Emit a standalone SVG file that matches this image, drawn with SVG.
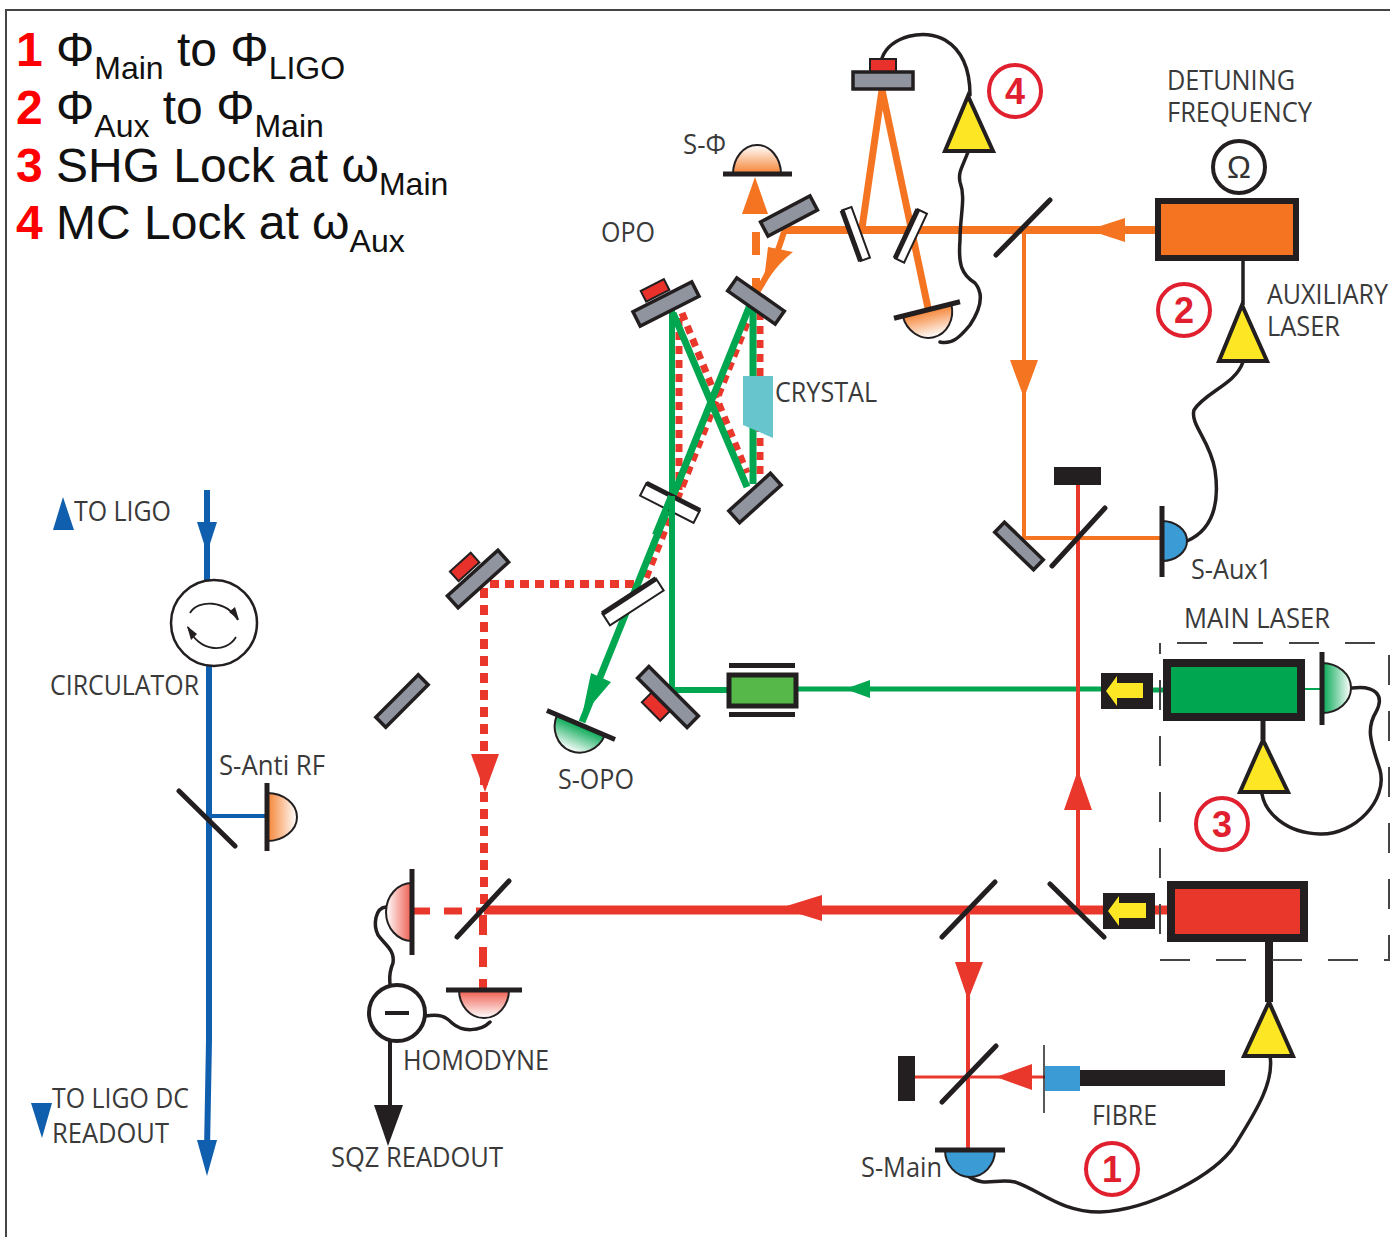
<svg xmlns="http://www.w3.org/2000/svg" width="1390" height="1237" viewBox="0 0 1390 1237">
<defs>
<linearGradient id="gO" x1="0" y1="1" x2="0" y2="0"><stop offset="0" stop-color="#f58232"/><stop offset="1" stop-color="#fff"/></linearGradient>
<linearGradient id="gR" x1="0" y1="1" x2="0" y2="0"><stop offset="0" stop-color="#ee5a4c"/><stop offset="1" stop-color="#fff"/></linearGradient>
<linearGradient id="gG" x1="0" y1="1" x2="0" y2="0"><stop offset="0" stop-color="#00a650"/><stop offset="1" stop-color="#fff"/></linearGradient>
</defs>
<style>
.lbl{font-family:"Open Sans","Noto Sans",sans-serif;font-size:27px;fill:#3a3a3a}
.leg{font-family:"Liberation Sans",Arial,sans-serif;font-size:48px;fill:#111}
.num{font-weight:bold;fill:#f00;font-family:"Liberation Sans",Arial,sans-serif;font-size:48px}
.sub{font-size:32px}
.cnum{font-family:"Liberation Sans",Arial,sans-serif;font-size:36px;font-weight:bold;fill:#e0202e;text-anchor:middle}
.ring{fill:#fff;stroke:#e0202e;stroke-width:4}
.mir{fill:#8f949e;stroke:#231f20;stroke-width:3.5}
.win{fill:#fff;stroke:#231f20;stroke-width:2}
.edge{stroke:#231f20;stroke-width:5;fill:none}
.pzt{fill:#e8312a;stroke:#231f20;stroke-width:2}
.bs{stroke:#231f20;stroke-width:5;fill:none;stroke-linecap:round}
.bar{stroke:#231f20;stroke-width:5;fill:none}
.cable{stroke:#231f20;stroke-width:3.5;fill:none;stroke-linecap:round}
.amp{fill:#fde725;stroke:#231f20;stroke-width:4;stroke-linejoin:miter}
.dome{stroke:#231f20;stroke-width:2}
.org{stroke:#f47421;fill:none}
.red{stroke:#e9382b;fill:none}
.grn{stroke:#00a650;fill:none}
.blu{stroke:#0f5fae;fill:none}
</style>
<rect x="6" y="10" width="1390" height="1240" fill="#fff" stroke="#444" stroke-width="2"/>

<g id="legend">
<text x="16" y="66" class="num">1</text><text x="56" y="66" class="leg">Φ<tspan class="sub" dy="13">Main</tspan><tspan dy="-13"> to Φ</tspan><tspan class="sub" dy="13">LIGO</tspan></text>
<text x="16" y="124" class="num">2</text><text x="56" y="124" class="leg">Φ<tspan class="sub" dy="13">Aux</tspan><tspan dy="-13"> to Φ</tspan><tspan class="sub" dy="13">Main</tspan></text>
<text x="16" y="182" class="num">3</text><text x="56" y="182" class="leg">SHG Lock at ω<tspan class="sub" dy="13">Main</tspan></text>
<text x="16" y="239" class="num">4</text><text x="56" y="239" class="leg">MC Lock at ω<tspan class="sub" dy="13">Aux</tspan></text>
</g>

<g id="connectors">
<!-- blue -->
<path class="blu" stroke-width="6" d="M207 490V580M209 665V1040L207 1150"/>
<path class="blu" stroke-width="4" d="M207 816H267"/>
<path fill="#0f5fae" d="M197 522H217L207 553ZM197 1140H217L207 1176Z"/>
<!-- orange -->
<path class="org" stroke-width="8" d="M782 230H1160"/>
<path class="org" stroke-width="7" d="M882 90L862 228M882 90L928 308"/>
<path class="org" stroke-width="4" d="M1024 232V538H1160"/>
<path class="org" stroke-width="6" d="M784 232C778 252 770 272 757 292"/>
<path fill="#f47421" d="M768 247L793 252C780 262 770 275 763 288Z"/>
<path class="org" stroke-width="8" d="M756 232V255M756 278V290"/>
<path fill="#f47421" d="M755 177L742 214H768ZM1088 230L1125 218V242ZM1010 360H1038L1024 398Z"/>
<!-- red dotted squeezed path -->
<path class="red" stroke-width="7" stroke-dasharray="8 6" d="M679 318V490M682 313L747 473M760 312V480"/>
<path class="red" stroke-width="7" stroke-dasharray="8 6" d="M747 323L646 578"/>
<path class="red" stroke-width="8" stroke-dasharray="9 6" d="M634 584H484"/>
<path class="red" stroke-width="8" stroke-dasharray="10 7" d="M484 588V906"/>
<path class="red" stroke-width="7" stroke-dasharray="18 14" d="M412 911H482"/>
<path class="red" stroke-width="8" stroke-dasharray="20 12" d="M483 915V988"/>
<path fill="#e9382b" d="M471 754H499L485 792Z"/>
<!-- green -->
<path class="grn" stroke-width="6" d="M672 310V690H730"/>
<path class="grn" stroke-width="7" d="M673 313L747 487M753 310V484"/>
<path class="grn" stroke-width="7" d="M750 305L582 722"/>
<path class="grn" stroke-width="5" d="M795 689H1101"/>
<path class="grn" stroke-width="5" d="M1150 690H1165"/>
<path class="grn" stroke-width="2" d="M1305 689H1322"/>
<path fill="#00a650" d="M845 689L870 680V698ZM591 673L611 682L582 716Z"/>
<!-- red main -->
<path class="red" stroke-width="9" d="M484 910H1170"/>
<path class="red" stroke-width="4" d="M968 910V1150M1078 910V485"/>
<path class="red" stroke-width="3" d="M915 1077H1045"/>
<path fill="#e9382b" d="M780 908L822 895V921ZM955 962H983L968 1000ZM1064 810H1092L1078 770ZM996 1077L1032 1064V1090Z"/>
<!-- black lines -->
<path class="bs" d="M457 937L509 881M942 937L995 882M1050 884L1104 937M942 1102L996 1046M1052 566L1105 508M996 255L1050 200M179 791L235 846"/>
<path d="M390 1041V1110" stroke="#231f20" stroke-width="4"/>
<path fill="#231f20" d="M374 1105H403L388 1146Z"/>
<path d="M1243 258V305" stroke="#231f20" stroke-width="3.5"/>
<path d="M1263 721V740" stroke="#231f20" stroke-width="5"/>
<path d="M1269 942V1002" stroke="#231f20" stroke-width="8"/>
<!-- cables -->
<path class="cable" d="M882 58C890 36 925 28 945 40C965 52 970 75 970 95"/>
<path class="cable" d="M968 152C962 168 958 172 960 182C966 198 960 215 960 240C958 265 962 275 975 283C985 295 980 310 970 325C960 337 952 345 940 342"/>
<path class="cable" d="M1243 362C1235 385 1205 392 1194 410C1190 425 1210 440 1215 470C1220 505 1212 530 1187 541"/>
<path class="cable" d="M1352 688C1375 685 1385 695 1376 712C1365 730 1372 745 1380 770C1388 800 1355 835 1320 834C1285 833 1265 812 1262 794"/>
<path class="cable" d="M1270 1056C1275 1085 1250 1120 1235 1145C1215 1175 1150 1210 1100 1212C1060 1212 1040 1190 1015 1182C995 1178 985 1188 968 1176"/>
<path class="cable" d="M386 907C375 908 373 925 378 935C385 945 395 950 393 963C388 975 390 980 390 985"/>
<path class="cable" d="M425 1016C440 1014 445 1016 452 1023C462 1032 480 1032 490 1022"/>
</g>

<g id="circulator">
<circle cx="214" cy="623" r="43" fill="#fff" stroke="#231f20" stroke-width="2.5"/>
<path d="M190 613C198 599 226 600 238 620M236 637C226 654 198 652 188 627" fill="none" stroke="#231f20" stroke-width="1.8"/>
<path fill="#231f20" d="M239 620L229 612L235 607ZM187 626L197 634L191 640Z"/>
</g>

<g id="aux-laser"><rect x="1158" y="201" width="138" height="57" fill="#f47421" stroke="#231f20" stroke-width="6"/></g>
<g id="omega"><circle cx="1239" cy="167" r="26" fill="#fff" stroke="#231f20" stroke-width="4"/><text x="1239" y="178" font-family="'Liberation Sans',sans-serif" font-size="32" fill="#333" text-anchor="middle">Ω</text></g>
<g id="main-laser-green"><rect x="1167" y="663" width="134" height="54" fill="#00a650" stroke="#231f20" stroke-width="8"/></g>
<g id="main-laser-red"><rect x="1171" y="885" width="133" height="53" fill="#e9382b" stroke="#231f20" stroke-width="8"/></g>
<g id="isolator-green"><rect x="1101" y="673" width="52" height="36" fill="#231f20"/><path fill="#fde725" d="M1106 691L1117 676V683H1143V698H1117V706Z"/></g>
<g id="isolator-red"><rect x="1103" y="893" width="52" height="36" fill="#231f20"/><path fill="#fde725" d="M1108 911L1119 896V903H1146V918H1119V926Z"/></g>
<path d="M1177 643H1389V960H1160V643" fill="none" stroke="#444" stroke-width="2" stroke-dasharray="30 26"/>

<g id="amp-4"><path class="amp" d="M968 96L945 151H993Z"/></g>
<g id="amp-2"><path class="amp" d="M1242 305L1219 361H1267Z"/></g>
<g id="amp-3"><path class="amp" d="M1263 740L1240 792H1288Z"/></g>
<g id="amp-1"><path class="amp" d="M1269 1002L1244 1056H1293Z"/></g>

<g id="fibre"><rect x="1080" y="1070" width="145" height="16" fill="#231f20"/><rect x="1045" y="1066" width="35" height="25" fill="#3a9bd5"/><path d="M1044 1045V1113" stroke="#231f20" stroke-width="1.5"/></g>
<g id="blocks"><rect x="1054" y="467" width="47" height="18" fill="#231f20"/><rect x="898" y="1056" width="17" height="45" fill="#231f20"/></g>

<g id="mc-mirror"><rect x="870" y="59" width="26" height="14" class="pzt"/><rect x="853" y="72" width="60" height="17" class="mir"/></g>
<g id="mc-input" transform="translate(856,234) rotate(70)"><rect x="-27" y="-5" width="54" height="10" class="win"/><path class="edge" d="M-27 5H27"/></g>
<g id="mc-output" transform="translate(911,236) rotate(-65)"><rect x="-27" y="-5" width="54" height="10" class="win"/><path class="edge" d="M-27 -5H27"/></g>
<g id="mirror-steer"><rect x="-28" y="-8" width="56" height="16" class="mir" transform="translate(789,216) rotate(-28)"/></g>
<g id="opo-m1"><rect x="-14" y="-20" width="26" height="12" class="pzt" transform="translate(660,298) rotate(-27) translate(0,5)"/><rect x="-33" y="-8" width="66" height="16" class="mir" transform="translate(666,304) rotate(-27)"/></g>
<g id="opo-m2"><rect x="-29" y="-8" width="58" height="16" class="mir" transform="translate(756,301) rotate(35)"/></g>
<g id="opo-m3"><rect x="-28" y="-8" width="56" height="16" class="mir" transform="translate(755,498) rotate(-42)"/></g>
<g id="crystal"><path fill="#67c6cd" d="M743 376H773V438L743 425Z"/></g>
<g id="win-1" transform="translate(670,503) rotate(27)"><rect x="-30" y="-7" width="60" height="14" class="win"/><path class="edge" d="M-30 -7H30"/></g>
<g id="win-2" transform="translate(633,602) rotate(-33)"><rect x="-32" y="-7" width="64" height="14" class="win"/><path class="edge" d="M-32 -7H32"/></g>
<path class="grn" stroke-width="6" d="M672 496V530M671 496L655 535"/>
<g id="mirror-lo"><rect x="-14" y="-8" width="26" height="14" class="pzt" transform="translate(656,708) rotate(45)"/><rect x="-35" y="-8" width="70" height="16" class="mir" transform="translate(668,697) rotate(45)"/></g>
<g id="eom"><rect x="729" y="675" width="67" height="31" fill="#55b848" stroke="#231f20" stroke-width="5"/><rect x="729" y="663" width="66" height="5" fill="#231f20"/><rect x="729" y="712" width="66" height="5" fill="#231f20"/></g>
<g id="mirror-sq"><rect x="-14" y="-19" width="28" height="13" class="pzt" transform="translate(471,574) rotate(-42) translate(0,3)"/><rect x="-34" y="-8" width="68" height="16" class="mir" transform="translate(478,579) rotate(-42)"/></g>
<g id="mirror-side"><rect x="-30" y="-7" width="60" height="14" class="mir" transform="translate(402,701) rotate(-45)"/></g>
<g id="mirror-aux"><rect x="-27" y="-7" width="54" height="14" class="mir" transform="translate(1019,546) rotate(44)"/></g>

<g id="s-phi" transform="translate(757,174)"><path class="dome" fill="url(#gO)" d="M-24 0A24 29 0 0 1 24 0Z"/><path class="bar" d="M-34 0H35"/></g>
<g id="s-mc" transform="translate(927,310) rotate(166)"><path class="dome" fill="url(#gO)" d="M-25 0A25 28 0 0 1 25 0Z"/><path class="bar" d="M-34 0H34"/></g>
<g id="s-opo" transform="translate(581,725) rotate(203)"><path class="dome" fill="url(#gG)" d="M-26 0A26 28 0 0 1 26 0Z"/><path class="bar" d="M-37 0H37"/></g>
<g id="s-aux1" transform="translate(1162,541) rotate(90)"><path fill="#3a9bd5" stroke="#231f20" stroke-width="2" d="M-20 0A20 25 0 0 1 20 0Z"/><path class="bar" d="M-35 0H36"/></g>
<g id="s-green" transform="translate(1322,688) rotate(90)"><path class="dome" fill="url(#gG)" d="M-25 0A25 29 0 0 1 25 0Z"/><path class="bar" d="M-36 0H37"/></g>
<g id="s-anti" transform="translate(267,817) rotate(90)"><path class="dome" fill="url(#gO)" d="M-24 0A24 30 0 0 1 24 0Z"/><path class="bar" d="M-34 0H34"/></g>
<g id="s-main" transform="translate(970,1150) rotate(180)"><path fill="#3a9bd5" stroke="#231f20" stroke-width="2" d="M-25 0A25 27 0 0 1 25 0Z"/><path class="bar" d="M-35 0H35"/></g>
<g id="pd-a" transform="translate(412,912) rotate(-90)"><path class="dome" fill="url(#gR)" d="M-29 0A29 26 0 0 1 29 0Z"/><path class="bar" d="M-43 0H43"/></g>
<g id="pd-b" transform="translate(484,990) rotate(180)"><path class="dome" fill="url(#gR)" d="M-25 0A25 28 0 0 1 25 0Z"/><path class="bar" d="M-38 0H38"/></g>
<g id="minus"><circle cx="397" cy="1013" r="28" fill="#fff" stroke="#231f20" stroke-width="4"/><path d="M385 1013H409" stroke="#231f20" stroke-width="4"/></g>

<g id="num-1"><circle cx="1112" cy="1169" r="26" class="ring"/><text x="1112" y="1182" class="cnum">1</text></g>
<g id="num-2"><circle cx="1184" cy="310" r="26" class="ring"/><text x="1184" y="323" class="cnum">2</text></g>
<g id="num-3"><circle cx="1222" cy="824" r="26" class="ring"/><text x="1222" y="837" class="cnum">3</text></g>
<g id="num-4"><circle cx="1015" cy="91" r="26" class="ring"/><text x="1015" y="104" class="cnum">4</text></g>

<g id="labels">
<text class="lbl" x="1167" y="90" textLength="128" lengthAdjust="spacingAndGlyphs">DETUNING</text>
<text class="lbl" x="1167" y="122" textLength="145" lengthAdjust="spacingAndGlyphs">FREQUENCY</text>
<text class="lbl" x="1267" y="304" textLength="121" lengthAdjust="spacingAndGlyphs">AUXILIARY</text>
<text class="lbl" x="1267" y="336" textLength="73" lengthAdjust="spacingAndGlyphs">LASER</text>
<text class="lbl" x="601" y="242" textLength="54" lengthAdjust="spacingAndGlyphs">OPO</text>
<text class="lbl" x="683" y="154" textLength="43" lengthAdjust="spacingAndGlyphs">S-Φ</text>
<text class="lbl" x="775" y="402" textLength="102" lengthAdjust="spacingAndGlyphs">CRYSTAL</text>
<text class="lbl" x="74" y="521" textLength="97" lengthAdjust="spacingAndGlyphs">TO LIGO</text>
<text class="lbl" x="50" y="695" textLength="149" lengthAdjust="spacingAndGlyphs">CIRCULATOR</text>
<text class="lbl" x="219" y="775" textLength="106" lengthAdjust="spacingAndGlyphs">S-Anti RF</text>
<text class="lbl" x="558" y="789" textLength="76" lengthAdjust="spacingAndGlyphs">S-OPO</text>
<text class="lbl" x="1191" y="579" textLength="81" lengthAdjust="spacingAndGlyphs">S-Aux1</text>
<text class="lbl" x="1184" y="628" textLength="146" lengthAdjust="spacingAndGlyphs">MAIN LASER</text>
<text class="lbl" x="403" y="1070" textLength="146" lengthAdjust="spacingAndGlyphs">HOMODYNE</text>
<text class="lbl" x="331" y="1167" textLength="172" lengthAdjust="spacingAndGlyphs">SQZ READOUT</text>
<text class="lbl" x="52" y="1108" textLength="137" lengthAdjust="spacingAndGlyphs">TO LIGO DC</text>
<text class="lbl" x="52" y="1143" textLength="117" lengthAdjust="spacingAndGlyphs">READOUT</text>
<text class="lbl" x="861" y="1177" textLength="81" lengthAdjust="spacingAndGlyphs">S-Main</text>
<text class="lbl" x="1092" y="1125" textLength="65" lengthAdjust="spacingAndGlyphs">FIBRE</text>
</g>
<g id="pointers"><path fill="#0f5fae" d="M53 530H74L63 497ZM31 1103H52L42 1138Z"/></g>
</svg>
